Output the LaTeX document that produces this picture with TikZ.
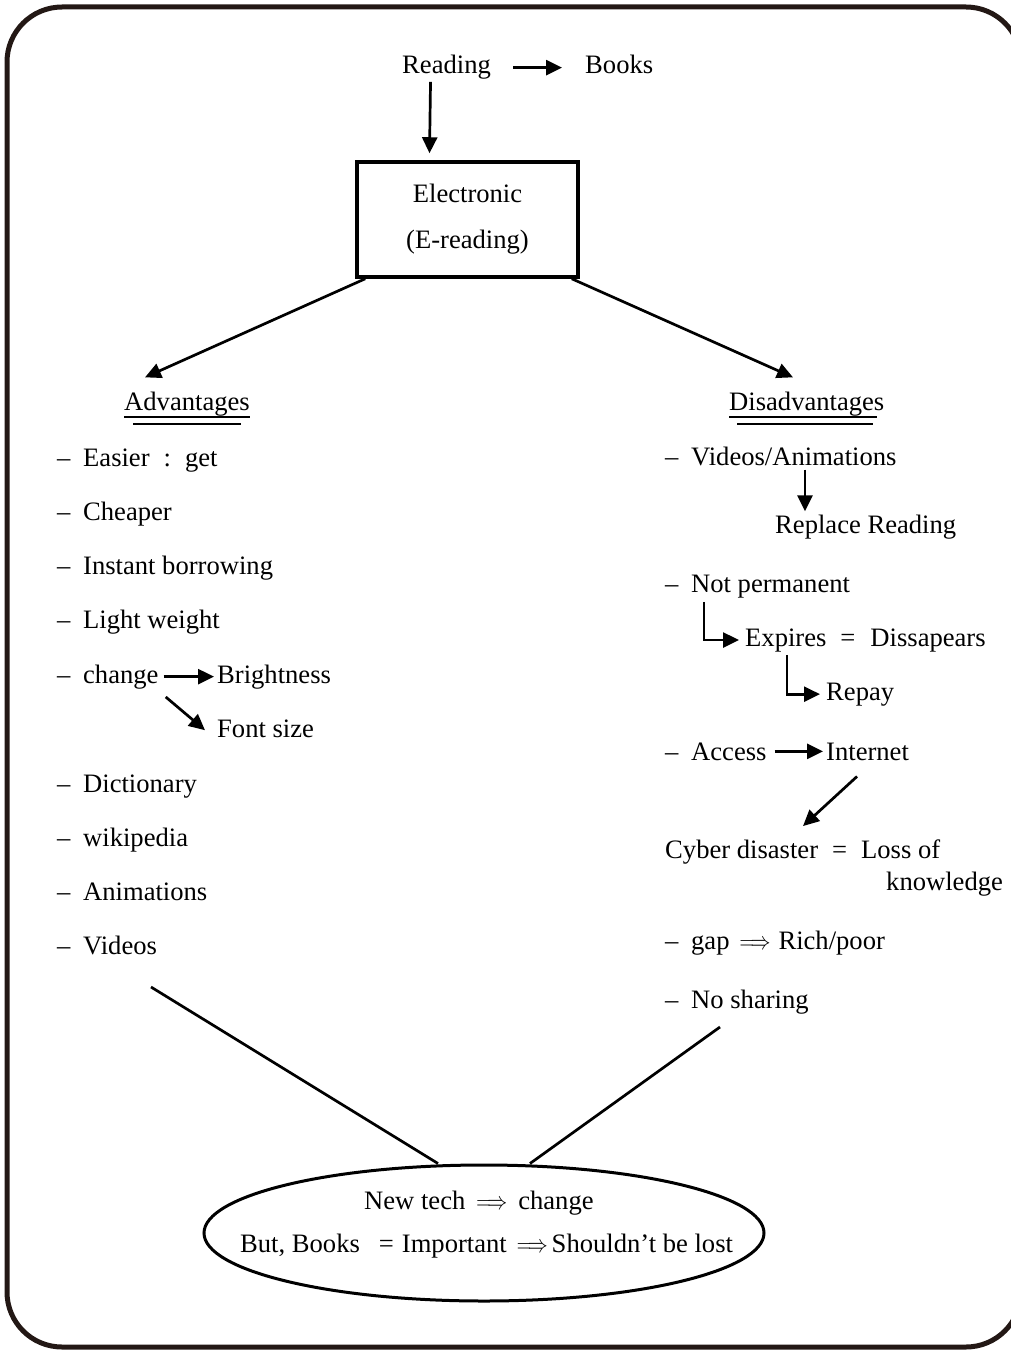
\documentclass[tikz,border=0pt]{standalone}
\usepackage{fontspec}
\setmainfont{Liberation Serif}
\usepackage{tikz}
\usetikzlibrary{arrows.meta,shapes.geometric}

\newcommand\bodyfont{\fontsize{26.6pt}{46pt}\selectfont}
\newcommand\itemdash{\makebox[26pt][l]{--}}
\newcommand\imp{\scalebox{0.8}[1]{$\Longrightarrow$}}
\definecolor{framecol}{HTML}{231815}

\begin{document}
\begin{tikzpicture}[
    x=1pt, y=-1pt,
    txt/.style={anchor=base west, inner sep=0pt, font=\bodyfont},
    box/.style={draw, line width=3.5pt, align=center, inner sep=0pt, font=\bodyfont,
      minimum width=221pt, minimum height=115pt},
    oval/.style={draw, ellipse, line width=3pt, inner sep=0pt, minimum width=560pt, minimum height=136pt},
    arr/.style={-{Triangle[length=16pt,width=15pt]}, line width=2.7pt},
    link/.style={line width=2.7pt},
    uline/.style={line width=2.5pt},
    frame/.style={draw=framecol, line width=5pt, rounded corners=55pt}
  ]
    \useasboundingbox (0,0) rectangle (1011,1351);
    \clip (0,0) rectangle (1011,1351);
    \draw[frame] (7,7) rectangle (1021,1347);

    % top
    \node[txt] (reading) at (402,74) {Reading};
    \node[txt] (books) at (585,74) {Books};
    \node[box] (elec) at (467.5,219.5) {Electronic\\(E-reading)};
    \draw[arr, shorten <=22pt, shorten >=23pt] (reading.east) -- (reading.east -| books.west);
    \draw[arr] ([xshift=-16pt,yshift=-2pt]reading.south) -- ([xshift=-38pt,yshift=7pt]elec.north);

    % headings
    \node[txt] (adv) at (124,410) {Advantages};
    \node[txt] (disadv) at (729,410) {Disadvantages};
    \draw[uline] ([yshift=-7pt]adv.base west) -- ([yshift=-7pt]adv.base east);
    \draw[uline] ([xshift=9pt,yshift=-14pt]adv.base west) -- ([xshift=-9pt,yshift=-14pt]adv.base east);
    \draw[uline] ([yshift=-7pt]disadv.base west) -- ([xshift=-8pt,yshift=-7pt]disadv.base east);
    \draw[uline] ([xshift=8pt,yshift=-14pt]disadv.base west) -- ([xshift=-12pt,yshift=-14pt]disadv.base east);
    \draw[arr] ([xshift=10pt]elec.south west) -- ([xshift=21pt,yshift=14pt]adv.north west);
    \draw[arr] ([xshift=-8pt]elec.south east) -- ([xshift=64pt,yshift=14pt]disadv.north west);

    % advantages
    \node[txt] (easier) at (57,466) {\itemdash Easier\hspace{14pt}:\hspace{14pt}get};
    \node[txt] (cheaper) at (57,520) {\itemdash Cheaper};
    \node[txt] (instant) at (57,574) {\itemdash Instant borrowing};
    \node[txt] (light) at (57,628) {\itemdash Light weight};
    \node[txt] (change) at (57,683) {\itemdash change};
    \node[txt] (bright) at (217,683) {Brightness};
    \node[txt] (fontsz) at (217,737) {Font size};
    \node[txt] (dict) at (57,792) {\itemdash Dictionary};
    \node[txt] (wiki) at (57,846) {\itemdash wikipedia};
    \node[txt] (anim) at (57,900) {\itemdash Animations};
    \node[txt] (videos) at (57,954) {\itemdash Videos};
    \draw[arr, shorten <=5pt, shorten >=3pt] (change.east) -- (change.east -| bright.west);
    \draw[arr] ([xshift=7pt,yshift=-8pt]change.south east) -- ([xshift=-12pt,yshift=-11pt]fontsz.north west);

    % disadvantages
    \node[txt] (vidanim) at (665,465) {\itemdash Videos/Animations};
    \node[txt] (replace) at (775,533) {Replace Reading};
    \node[txt] (notperm) at (665,592) {\itemdash Not permanent};
    \node[txt] (expires) at (745,646) {Expires\hspace{14pt}=\hspace{15pt}Dissapears};
    \node[txt] (repay) at (826,700) {Repay};
    \node[txt] (access) at (665,760) {\itemdash Access};
    \node[txt] (internet) at (826,760) {Internet};
    \node[txt] (cyber) at (665,858) {Cyber disaster\hspace{14pt}=\hspace{14pt}Loss of};
    \node[txt] (knowl) at (886,890) {knowledge};
    \node[txt] (gap) at (665,949) {\itemdash gap\hspace{10pt}\imp\hspace{8pt}Rich/poor};
    \node[txt] (nosharing) at (665,1008) {\itemdash No sharing};
    \draw[arr] ([xshift=140pt,yshift=-4pt]vidanim.south west) -- ([xshift=30pt,yshift=3pt]replace.north west);
    \draw[arr] ([xshift=39pt,yshift=-4pt]notperm.south west) |- ([xshift=-6pt]expires.west);
    \draw[arr] ([xshift=42pt,yshift=-3pt]expires.south west) |- ([xshift=-6pt]repay.west);
    \draw[arr, shorten <=8pt, shorten >=3pt] (access.east) -- (access.east -| internet.west);
    \draw[arr] ([xshift=31pt,yshift=-16pt]internet.south west) -- ([xshift=138pt,yshift=13pt]cyber.north west);

    % conclusion
    \node[oval] (concl) at (484,1233) {};
    \node[txt] (newtech) at (364,1209) {New tech\hspace{11pt}\imp\hspace{11pt}change};
    \node[txt] (butbooks) at (240,1252) {But, Books\hspace{19pt}=\hspace{8pt}Important\hspace{10pt}\imp\hspace{4pt}Shouldn't be lost};
    \coordinate (advfoot) at (151,987);
    \coordinate (disfoot) at (720,1027);
    \draw[link] (advfoot) -- ([xshift=-46pt]concl.north);
    \draw[link] (disfoot) -- ([xshift=46pt]concl.north);
  \end{tikzpicture}
\end{document}
